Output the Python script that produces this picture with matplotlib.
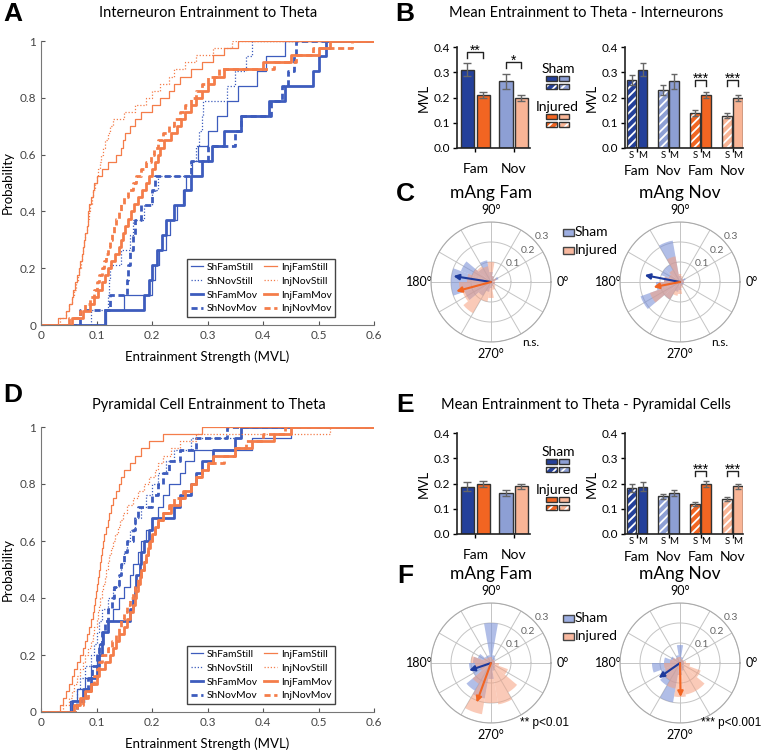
import numpy as np
import matplotlib
matplotlib.use('Agg')
import matplotlib.pyplot as plt
from matplotlib.patches import Rectangle

plt.rcParams['font.family'] = ['Lato', 'DejaVu Sans']
plt.rcParams['hatch.linewidth'] = 1.3

W, H = 763, 751

# ---------------- data: cumulative distributions (sorted MVL per cell) ----------------
# Interneurons (panel A)
A_ShFamStill = [0.118, 0.149, 0.200, 0.206, 0.212, 0.225, 0.232, 0.245, 0.255, 0.262,
                0.272, 0.282, 0.300, 0.318, 0.335, 0.355, 0.390, 0.405, 0.440]
A_ShNovStill = [0.09, 0.12, 0.122, 0.125, 0.145, 0.16, 0.165, 0.185, 0.2, 0.21,
                0.27, 0.28, 0.285, 0.29, 0.292, 0.335, 0.35, 0.37, 0.38]
A_ShFamMov = [0.115, 0.185, 0.194, 0.2, 0.209, 0.218, 0.225, 0.24, 0.258, 0.27,
              0.29, 0.308, 0.33, 0.36, 0.41, 0.44, 0.49, 0.50, 0.513]
A_ShNovMov = [0.07, 0.125, 0.155, 0.157, 0.16, 0.165, 0.17, 0.18, 0.2, 0.205,
              0.27, 0.3, 0.35, 0.36, 0.415, 0.435, 0.445, 0.455, 0.46]
A_InjFamStill = [0.03, 0.045, 0.05, 0.055, 0.058, 0.062, 0.065, 0.068, 0.07, 0.073,
                 0.076, 0.078, 0.08, 0.082, 0.084, 0.085, 0.087, 0.09, 0.093, 0.096,
                 0.1, 0.11, 0.12, 0.135, 0.145, 0.148, 0.152, 0.16, 0.17, 0.18,
                 0.2, 0.215, 0.23, 0.24, 0.25, 0.27, 0.29, 0.31, 0.33, 0.355]
A_InjNovStill = [0.035, 0.045, 0.05, 0.055, 0.06, 0.063, 0.066, 0.069, 0.072, 0.074,
                 0.076, 0.078, 0.08, 0.082, 0.084, 0.086, 0.088, 0.091, 0.094, 0.097,
                 0.1, 0.103, 0.106, 0.109, 0.112, 0.116, 0.12, 0.125, 0.13, 0.15,
                 0.17, 0.19, 0.2, 0.215, 0.23, 0.24, 0.26, 0.28, 0.31, 0.345]
A_InjFamMov = [0.055, 0.075, 0.088, 0.095, 0.102, 0.11, 0.115, 0.12, 0.127, 0.133,
               0.14, 0.145, 0.148, 0.152, 0.157, 0.162, 0.168, 0.175, 0.182, 0.19,
               0.195, 0.2, 0.205, 0.21, 0.215, 0.222, 0.235, 0.245, 0.252, 0.26,
               0.27, 0.28, 0.29, 0.3, 0.312, 0.33, 0.4, 0.45, 0.5, 0.52]
A_InjNovMov = [0.05, 0.07, 0.08, 0.088, 0.095, 0.1, 0.105, 0.11, 0.113, 0.117,
               0.12, 0.125, 0.128, 0.132, 0.136, 0.14, 0.145, 0.15, 0.157, 0.165,
               0.172, 0.18, 0.19, 0.198, 0.203, 0.21, 0.22, 0.23, 0.24, 0.25,
               0.26, 0.27, 0.28, 0.29, 0.3, 0.32, 0.42, 0.46, 0.49, 0.56]

# Pyramidal cells (panel D)
D_ShFamStill = [0.052, 0.065, 0.08, 0.09, 0.1, 0.105, 0.11, 0.12, 0.13, 0.14,
                0.15, 0.16, 0.165, 0.175, 0.18, 0.19, 0.2, 0.21, 0.22, 0.23,
                0.25, 0.26, 0.275, 0.38, 0.45]
D_ShNovStill = [0.055, 0.065, 0.07, 0.08, 0.09, 0.095, 0.1, 0.105, 0.11, 0.12,
                0.13, 0.14, 0.145, 0.15, 0.155, 0.16, 0.17, 0.18, 0.19, 0.2,
                0.21, 0.225, 0.24, 0.27, 0.36]
D_ShFamMov = [0.055, 0.075, 0.09, 0.1, 0.105, 0.11, 0.112, 0.12, 0.16, 0.165,
              0.17, 0.172, 0.178, 0.18, 0.185, 0.195, 0.2, 0.24, 0.25, 0.27,
              0.28, 0.29, 0.31, 0.35, 0.36]
D_ShNovMov = [0.065, 0.08, 0.085, 0.092, 0.1, 0.105, 0.11, 0.115, 0.12, 0.128,
              0.132, 0.14, 0.145, 0.15, 0.155, 0.165, 0.17, 0.175, 0.2, 0.21,
              0.22, 0.23, 0.25, 0.28, 0.335]
D_InjFamStill = [0.035, 0.04, 0.045, 0.05, 0.055, 0.06, 0.065, 0.07, 0.075, 0.08,
                 0.083, 0.086, 0.09, 0.093, 0.095, 0.097, 0.099, 0.1, 0.102, 0.104,
                 0.106, 0.108, 0.11, 0.112, 0.114, 0.117, 0.12, 0.123, 0.127, 0.13,
                 0.135, 0.14, 0.145, 0.15, 0.16, 0.17, 0.18, 0.195, 0.22, 0.29]
D_InjNovStill = [0.04, 0.05, 0.055, 0.06, 0.065, 0.07, 0.075, 0.08, 0.085, 0.09,
                 0.093, 0.096, 0.1, 0.102, 0.105, 0.107, 0.11, 0.112, 0.115, 0.117,
                 0.12, 0.123, 0.126, 0.13, 0.134, 0.138, 0.142, 0.148, 0.155, 0.165,
                 0.175, 0.185, 0.195, 0.205, 0.21, 0.22, 0.235, 0.25, 0.28, 0.52]
D_InjFamMov = [0.06, 0.07, 0.08, 0.09, 0.1, 0.105, 0.115, 0.125, 0.13, 0.135,
               0.14, 0.15, 0.155, 0.16, 0.165, 0.17, 0.172, 0.175, 0.178, 0.18,
               0.185, 0.19, 0.193, 0.196, 0.2, 0.205, 0.21, 0.22, 0.235, 0.25,
               0.26, 0.27, 0.28, 0.29, 0.3, 0.31, 0.35, 0.38, 0.42, 0.45]
D_InjNovMov = [0.065, 0.075, 0.085, 0.09, 0.095, 0.1, 0.105, 0.11, 0.12, 0.128,
               0.135, 0.14, 0.145, 0.15, 0.155, 0.16, 0.165, 0.17, 0.175, 0.18,
               0.185, 0.19, 0.193, 0.195, 0.2, 0.205, 0.21, 0.22, 0.23, 0.24,
               0.255, 0.27, 0.28, 0.29, 0.3, 0.33, 0.35, 0.37, 0.4, 0.44]

CURVE_NAMES = ['ShFamStill', 'ShNovStill', 'ShFamMov', 'ShNovMov',
               'InjFamStill', 'InjNovStill', 'InjFamMov', 'InjNovMov']

# ---------------- data: mean MVL bars ----------------
GROUP_LABELS = ['Fam', 'Nov']
B_mean = [0.31, 0.21, 0.265, 0.198]          # ShFam, InjFam, ShNov, InjNov
B_err = [0.025, 0.012, 0.03, 0.013]
B_split_mean = [0.268, 0.31, 0.23, 0.265, 0.137, 0.21, 0.127, 0.198]   # S/M pairs
B_split_err = [0.02, 0.025, 0.02, 0.03, 0.012, 0.012, 0.01, 0.013]
E_mean = [0.188, 0.198, 0.163, 0.19]
E_err = [0.018, 0.01, 0.012, 0.01]
E_split_mean = [0.183, 0.188, 0.15, 0.163, 0.12, 0.198, 0.138, 0.19]
E_split_err = [0.015, 0.018, 0.01, 0.012, 0.008, 0.01, 0.008, 0.01]

# ---------------- data: mean phase rose plots (20 deg bins) ----------------
BIN_DEG = np.arange(10, 360, 20)
C_fam_sham = [0, 0.04, 0.02, 0.03, 0.05, 0.11, 0.08, 0.16, 0.2, 0.2, 0.14, 0.08, 0.05, 0.03, 0.02, 0.01, 0.02, 0.02]
C_fam_inj = [0.02, 0.03, 0.02, 0.03, 0.1, 0.08, 0.09, 0.1, 0.12, 0.16, 0.15, 0.18, 0.1, 0.08, 0.04, 0.03, 0.02, 0.02]
C_nov_sham = [0.02, 0.03, 0.02, 0.02, 0.03, 0.21, 0.1, 0.1, 0.08, 0.12, 0.21, 0.1, 0.05, 0.04, 0.02, 0.02, 0.02, 0.02]
C_nov_inj = [0.02, 0.02, 0.02, 0.03, 0.04, 0.13, 0.07, 0.06, 0.08, 0.1, 0.16, 0.1, 0.07, 0.06, 0.03, 0.02, 0.01, 0.02]
F_fam_sham = [0.02, 0.02, 0.03, 0.04, 0.2, 0.04, 0.04, 0.07, 0.09, 0.11, 0.1, 0.16, 0.18, 0.08, 0.04, 0.03, 0.02, 0.02]
F_fam_inj = [0.02, 0.02, 0.02, 0.02, 0.03, 0.03, 0.03, 0.04, 0.1, 0.08, 0.06, 0.12, 0.26, 0.2, 0.21, 0.17, 0.09, 0.04]
F_nov_sham = [0.02, 0.02, 0.02, 0.03, 0.09, 0.04, 0.03, 0.05, 0.08, 0.14, 0.1, 0.13, 0.2, 0.06, 0.04, 0.03, 0.02, 0.02]
F_nov_inj = [0.03, 0.02, 0.02, 0.02, 0.03, 0.03, 0.03, 0.04, 0.05, 0.08, 0.08, 0.1, 0.13, 0.17, 0.16, 0.16, 0.11, 0.05]
# mean vectors (angle deg, length): sham, injured
C_fam_vec = [(171, 0.19), (195, 0.18)]
C_nov_vec = [(169, 0.18), (191, 0.135)]
F_fam_vec = [(199, 0.115), (250, 0.21)]
F_nov_vec = [(215, 0.13), (271, 0.17)]

# ---------------- colours ----------------
CDF_BLUE = '#3d5cbd'
CDF_ORANGE = '#f47d4a'
DKBLUE = '#24409a'
ORANGE = '#f26522'
LTBLUE = '#8d9fd4'
PEACH = '#f9b596'
ROSE_SHAM = '#7d93d8'
ROSE_INJ = '#f6a07f'
STAR_FONT = ['Liberation Sans', 'DejaVu Sans']

fig = plt.figure(figsize=(W / 100, H / 100), dpi=100)


def px_axes(x0, y0, x1, y1, **kw):
    return fig.add_axes([x0 / W, 1 - y1 / H, (x1 - x0) / W, (y1 - y0) / H], **kw)


def ftext(x, y, s, **kw):
    kw.setdefault('ha', 'center')
    kw.setdefault('va', 'center')
    fig.text(x / W, 1 - y / H, s, **kw)


ov = fig.add_axes([0, 0, 1, 1], zorder=20)
ov.set_xlim(0, W)
ov.set_ylim(H, 0)
ov.axis('off')


def panel_letter(x, y, s):
    ftext(x, y, s, fontsize=19, fontweight='bold', family='Liberation Sans')


# ---------------- CDF panels ----------------
def cdf_panel(box, curves, title, ty):
    ax = px_axes(*box)
    for name, vals in zip(CURVE_NAMES, curves):
        col = CDF_BLUE if name.startswith('Sh') else CDF_ORANGE
        thick = name.endswith('Mov')
        lw = 2.0 if thick else 0.9
        if 'Nov' in name:
            ls = (0, (2.2, 1.3)) if thick else (0, (1, 1.5))
        else:
            ls = '-'
        n = len(vals)
        xs = [0] + sorted(vals) + [0.6]
        ys = [0] + [(i + 1) / n for i in range(n)] + [1]
        ax.step(xs, ys, where='post', color=col, lw=lw, ls=ls, label=name)
    ax.set_xlim(0, 0.6)
    ax.set_ylim(0, 1)
    ax.set_xticks(np.arange(0, 0.61, 0.1))
    ax.set_xticklabels(['0', '0.1', '0.2', '0.3', '0.4', '0.5', '0.6'])
    ax.set_yticks(np.arange(0, 1.01, 0.2))
    ax.set_yticklabels(['0', '0.2', '0.4', '0.6', '0.8', '1'])
    ax.tick_params(direction='in', length=3, labelsize=8.5, colors='#555', labelcolor='#444')
    for s in ('top', 'right'):
        ax.spines[s].set_visible(False)
    for s in ('left', 'bottom'):
        ax.spines[s].set_color('#777')
    ax.set_xlabel('Entrainment Strength (MVL)', fontsize=9.5, labelpad=7)
    ax.set_ylabel('Probability', fontsize=9.5, labelpad=4)
    leg = ax.legend(ncol=2, loc='lower right', bbox_to_anchor=(0.883, 0.028),
                    borderaxespad=0, fontsize=7.4, fancybox=False, edgecolor='#444',
                    framealpha=1, handlelength=1.2, labelspacing=0.45,
                    columnspacing=0.6, borderpad=0.35, handletextpad=0.4)
    leg.get_frame().set_linewidth(1.0)
    ftext((box[0] + box[2]) / 2 + 1, ty, title, fontsize=10.5)
    return ax


cdf_panel((41, 41, 374, 325),
          [A_ShFamStill, A_ShNovStill, A_ShFamMov, A_ShNovMov,
           A_InjFamStill, A_InjNovStill, A_InjFamMov, A_InjNovMov],
          'Interneuron Entrainment to Theta', 13)
cdf_panel((41, 427, 374, 712),
          [D_ShFamStill, D_ShNovStill, D_ShFamMov, D_ShNovMov,
           D_InjFamStill, D_InjNovStill, D_InjFamMov, D_InjNovMov],
          'Pyramidal Cell Entrainment to Theta', 405)
panel_letter(13, 14, 'A')
panel_letter(13, 395, 'D')


# ---------------- bar panels ----------------
MVL_TICKS = [0, 0.1, 0.2, 0.3, 0.4]


def style_bar_ax(ax):
    ax.set_ylim(0, 0.4)
    ax.set_yticks(MVL_TICKS)
    ax.set_yticklabels([f'{t:.1f}' for t in MVL_TICKS])
    ax.tick_params(axis='y', length=3, width=1, labelsize=8.5, pad=2)
    ax.tick_params(axis='x', length=3, width=1, labelsize=10, pad=8)
    for s in ('top', 'right'):
        ax.spines[s].set_visible(False)
    for s in ('left', 'bottom'):
        ax.spines[s].set_color('#222')
        ax.spines[s].set_linewidth(1.2)
    ax.set_ylabel('MVL', fontsize=9.5, labelpad=3)
    ax.patch.set_alpha(0)


def bracket(ax, x1, x2, y, s):
    ax.plot([x1, x1, x2, x2], [y - 0.022, y, y, y - 0.022], color='#222', lw=1)
    ax.text((x1 + x2) / 2, y + 0.006, s, ha='center', va='center', fontsize=10,
            family=STAR_FONT)


def hatched_bar(ax, x, v, c, width):
    ax.bar(x, v, width=width, color=c, hatch='////', edgecolor='white', lw=0, zorder=2)
    ax.bar(x, v, width=width, fill=False, edgecolor='#333', lw=1, zorder=2.5)


PAIR_CENTERS = [1.15, 4.15, 7.2, 10.25]


def bar_pair(y_top, means, errs, smeans, serrs, brackets_l, brackets_r, title, ty, sm_y):
    axl = px_axes(457, y_top, 530, y_top + 101)
    pos = [1, 2, 3.4, 4.35]
    axl.bar(pos, means, width=0.82, color=[DKBLUE, ORANGE, LTBLUE, PEACH],
            edgecolor='#333', lw=1, zorder=2)
    axl.errorbar(pos, means, yerr=errs, fmt='none', ecolor='#666', elinewidth=1,
                 capsize=3, zorder=3)
    axl.set_xlim(0.35, 4.9)
    axl.set_xticks([1.5, 3.875])
    axl.set_xticklabels(GROUP_LABELS)
    style_bar_ax(axl)
    axl.tick_params(axis='x', pad=8)
    for b in brackets_l:
        bracket(axl, *b)

    axr = px_axes(625, y_top, 743, y_top + 101)
    spos = []
    for c in PAIR_CENTERS:
        spos += [c - 0.53, c + 0.53]
    scol = [DKBLUE, DKBLUE, LTBLUE, LTBLUE, ORANGE, ORANGE, PEACH, PEACH]
    for i, (x, v, c) in enumerate(zip(spos, smeans, scol)):
        if i % 2 == 0:
            hatched_bar(axr, x, v, c, 0.92)
        else:
            axr.bar(x, v, width=0.92, color=c, edgecolor='#333', lw=1, zorder=2)
    axr.errorbar(spos, smeans, yerr=serrs, fmt='none', ecolor='#666', elinewidth=1,
                 capsize=2.5, zorder=3)
    axr.set_xlim(0, 11.25)
    axr.set_xticks(PAIR_CENTERS)
    axr.set_xticklabels(['Fam', 'Nov', 'Fam', 'Nov'])
    style_bar_ax(axr)
    axr.tick_params(axis='x', pad=9)
    for i, x in enumerate(spos):
        lab = 'S' if i % 2 == 0 else 'M'
        axr.text(x, sm_y, lab, ha='center', va='center', fontsize=7,
                 transform=axr.get_xaxis_transform())
    for b in brackets_r:
        c = PAIR_CENTERS[b[0]]
        bracket(axr, c - 0.53, c + 0.53, b[1], b[2])
    ftext(586, ty, title, fontsize=10.5)


bar_pair(47, B_mean, B_err, B_split_mean, B_split_err,
         [(1, 2, 0.38, '**'), (3.4, 4.35, 0.34, '*')],
         [(2, 0.268, '***'), (3, 0.268, '***')],
         'Mean Entrainment to Theta - Interneurons', 13, -0.07)
bar_pair(433, E_mean, E_err, E_split_mean, E_split_err,
         [],
         [(2, 0.25, '***'), (3, 0.25, '***')],
         'Mean Entrainment to Theta - Pyramidal Cells', 405, -0.07)
panel_letter(405, 14, 'B')
panel_letter(405, 405, 'E')


def bar_legend(y0):
    ftext(558, y0, 'Sham', fontsize=10)
    ftext(557, y0 + 38, 'Injured', fontsize=10)
    for yy, cols in ((y0 + 7, (DKBLUE, LTBLUE)), (y0 + 45, (ORANGE, PEACH))):
        for row in range(2):
            for k, c in enumerate(cols):
                x = 546 + k * 12.5
                y = yy + row * 8
                if row == 1:
                    ov.add_patch(Rectangle((x, y), 10.5, 5, facecolor=c, hatch='////',
                                           edgecolor='white', lw=0))
                else:
                    ov.add_patch(Rectangle((x, y), 10.5, 5, facecolor=c, lw=0))
                ov.add_patch(Rectangle((x, y), 10.5, 5, fill=False, edgecolor='#333', lw=1))


bar_legend(69)
bar_legend(452)


# ---------------- rose panels ----------------
def rose(cx, cy, sham, inj, vecs, title):
    R = 60
    ax = px_axes(cx - R, cy - R, cx + R, cy + R, projection='polar')
    th = np.deg2rad(BIN_DEG)
    w = np.deg2rad(20)
    ax.bar(th, sham, width=w, color=ROSE_SHAM, alpha=0.6, lw=0, zorder=2)
    ax.bar(th, inj, width=w, color=ROSE_INJ, alpha=0.55, lw=0, zorder=3)
    for (deg, r), c in zip(vecs, ('#1d3a9c', ORANGE)):
        ax.annotate('', xy=(np.deg2rad(deg), r), xytext=(0, 0),
                    arrowprops=dict(arrowstyle='-|>', color=c, lw=1.5, shrinkA=0,
                                    shrinkB=0, mutation_scale=8), zorder=6)
    ax.set_ylim(0, 0.3)
    ax.set_rgrids([0.1, 0.2, 0.3], labels=['0.1', '0.2', '0.3'], angle=43,
                  fontsize=7.5, color='#666')
    labs = ['0°' if d == 0 else '90°' if d == 90 else '180°' if d == 180
            else '270°' if d == 270 else '' for d in range(0, 360, 30)]
    ax.set_thetagrids(np.arange(0, 360, 30), labels=labs, fontsize=9)
    ax.tick_params(axis='x', pad=-2)
    ax.grid(color='#c4c4c4', lw=0.7)
    ax.spines['polar'].set_color('#aaa')
    ax.spines['polar'].set_linewidth(0.8)
    ftext(cx, cy - 89, title, fontsize=12.5)
    return ax


rose(491, 282, C_fam_sham, C_fam_inj, C_fam_vec, 'mAng Fam')
rose(680, 282, C_nov_sham, C_nov_inj, C_nov_vec, 'mAng Nov')
rose(491, 663, F_fam_sham, F_fam_inj, F_fam_vec, 'mAng Fam')
rose(680, 663, F_nov_sham, F_nov_inj, F_nov_vec, 'mAng Nov')
panel_letter(405, 194, 'C')
panel_letter(405, 576, 'F')


def rose_legend(y0):
    for k, (lab, c) in enumerate((('Sham', ROSE_SHAM), ('Injured', ROSE_INJ))):
        y = y0 + k * 18
        ov.add_patch(Rectangle((563, y - 3.5), 11, 7, facecolor=c, alpha=0.75, lw=0))
        ov.add_patch(Rectangle((563, y - 3.5), 11, 7, fill=False, edgecolor='#444', lw=1))
        ftext(575, y, lab, fontsize=10, ha='left')


rose_legend(232)
rose_legend(618)
ftext(531, 343, 'n.s.', fontsize=8.5)
ftext(720, 343, 'n.s.', fontsize=8.5)
ftext(569, 723, '** p<0.01', fontsize=8.5, ha='right', family=STAR_FONT)
ftext(761, 723, '*** p<0.001', fontsize=8.5, ha='right', family=STAR_FONT)

fig.savefig('out.png', dpi=100)
